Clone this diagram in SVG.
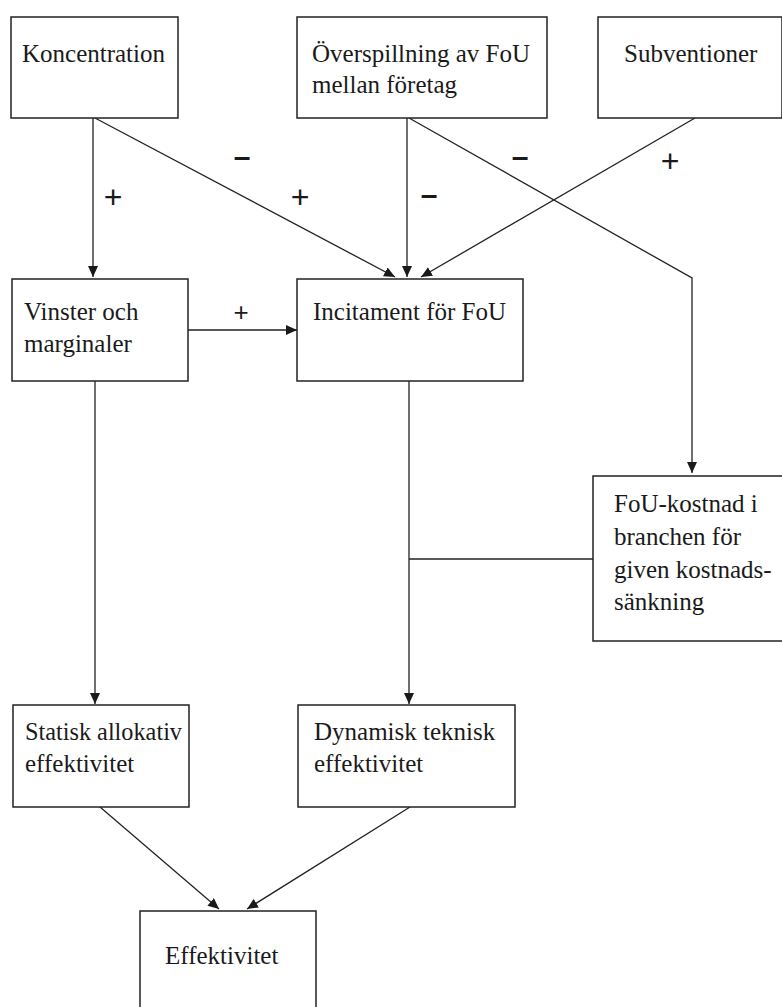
<svg xmlns="http://www.w3.org/2000/svg" width="782" height="1007" viewBox="0 0 782 1007">
<style>
.box{fill:#fff;stroke:#222;stroke-width:1.5}
.t{font-family:"Liberation Serif","Times New Roman",serif;font-size:25px;fill:#1a1a1a}
.s{font-family:"Liberation Sans",Arial,sans-serif;font-size:32px;fill:#1a1a1a;text-anchor:middle}
.m{font-family:"Liberation Sans",Arial,sans-serif;font-size:30px;font-weight:bold;fill:#1a1a1a;text-anchor:middle}
.c{fill:none;stroke:#222;stroke-width:1.3}
</style>
<defs>
<marker id="ah" markerUnits="userSpaceOnUse" markerWidth="12" markerHeight="10" refX="11" refY="5" orient="auto">
<path d="M0,0 L11,5 L0,10 Z" fill="#1a1a1a"/>
</marker>
</defs>
<rect width="782" height="1007" fill="#fff"/>
<g id="connectors">
<path class="c" d="M93,118 V277" marker-end="url(#ah)"/>
<path class="c" d="M95,118 L395,277" marker-end="url(#ah)"/>
<path class="c" d="M407,118 V277" marker-end="url(#ah)"/>
<path class="c" d="M695,118 L421,277" marker-end="url(#ah)"/>
<path class="c" d="M409,118 L692,278 V473" marker-end="url(#ah)"/>
<path class="c" d="M188,330 H297" marker-end="url(#ah)"/>
<path class="c" d="M95,381 V704" marker-end="url(#ah)"/>
<path class="c" d="M409,381 V704" marker-end="url(#ah)"/>
<path class="c" d="M409,559 H593"/>
<path class="c" d="M100,807 L219,909" marker-end="url(#ah)"/>
<path class="c" d="M410,807 L247,909" marker-end="url(#ah)"/>
<text class="m" x="242" y="167">–</text>
<text class="m" x="520" y="167">–</text>
<text class="s" x="670" y="172">+</text>
<text class="s" x="113" y="208">+</text>
<text class="s" x="300" y="208">+</text>
<text class="m" x="429" y="205">–</text>
<text class="s" x="241" y="321" style="font-size:26px">+</text>
</g>
<g id="koncentration">
<rect class="box" x="11" y="17" width="167" height="101"/>
<text class="t" x="22" y="62">Koncentration</text>
</g>
<g id="overspillning">
<rect class="box" x="297" y="17" width="250" height="101"/>
<text class="t" x="312" y="62">Överspillning av FoU</text>
<text class="t" x="312" y="93">mellan företag</text>
</g>
<g id="subventioner">
<rect class="box" x="598" y="17" width="184" height="101"/>
<text class="t" x="624" y="62">Subventioner</text>
</g>
<g id="vinster">
<rect class="box" x="12" y="279" width="176" height="102"/>
<text class="t" x="24" y="320">Vinster och</text>
<text class="t" x="24" y="352">marginaler</text>
</g>
<g id="incitament">
<rect class="box" x="297" y="279" width="226" height="102"/>
<text class="t" x="313" y="320">Incitament för FoU</text>
</g>
<g id="foukostnad">
<rect class="box" x="593" y="476" width="192" height="165"/>
<text class="t" x="614" y="512">FoU-kostnad i</text>
<text class="t" x="614" y="545">branchen för</text>
<text class="t" x="614" y="578">given kostnads-</text>
<text class="t" x="614" y="610">sänkning</text>
</g>
<g id="statisk">
<rect class="box" x="13" y="705" width="176" height="102"/>
<text class="t" x="25" y="740" textLength="157" lengthAdjust="spacingAndGlyphs">Statisk allokativ</text>
<text class="t" x="25" y="772">effektivitet</text>
</g>
<g id="dynamisk">
<rect class="box" x="298" y="705" width="217" height="102"/>
<text class="t" x="314" y="740">Dynamisk teknisk</text>
<text class="t" x="314" y="772">effektivitet</text>
</g>
<g id="effektivitet">
<rect class="box" x="140" y="911" width="176" height="110"/>
<text class="t" x="165" y="964">Effektivitet</text>
</g>
</svg>
